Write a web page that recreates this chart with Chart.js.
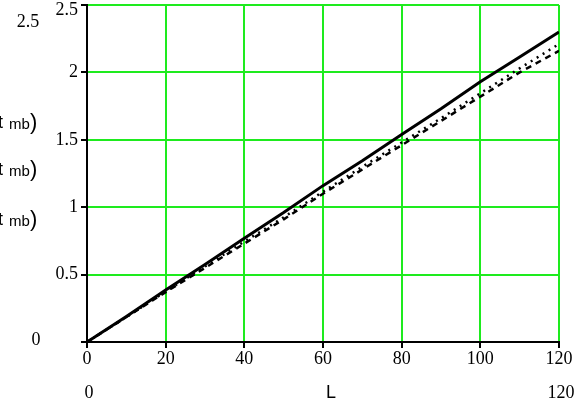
<!DOCTYPE html>
<html lang="en">
<head>
    <meta charset="UTF-8">
    <title>t mb vs L</title>
    <script src="https://cdn.jsdelivr.net/npm/chart.js@4.4.0/dist/chart.umd.min.js"></script>
    <style>
        body {margin: 0; background: #fff;}
        #wrap {width: 579px; height: 398px;}
    </style>
</head>
<body>
    <div id="wrap">
        <canvas id="chart" width="579" height="398"></canvas>
    </div>
    <script>
        // values, L from 0 to 120
        const L = [0, 10, 20, 30, 40, 50, 60, 70, 80, 90, 100, 110, 120];
        const solid = [0, 0.19, 0.385, 0.575, 0.77, 0.96, 1.16, 1.345, 1.54, 1.73, 1.93, 2.115, 2.30];
        const dashed = [0, 0.185, 0.37, 0.55, 0.73, 0.91, 1.10, 1.28, 1.46, 1.64, 1.82, 2.0, 2.16];
        const dotted = [0, 0.185, 0.375, 0.56, 0.745, 0.925, 1.115, 1.30, 1.48, 1.66, 1.845, 2.03, 2.21];
        const xTicks = [0, 20, 40, 60, 80, 100, 120];
        const yTicks = [0, 0.5, 1, 1.5, 2, 2.5];

        const green = 'rgb(30,235,30)';
        const serif = '"Liberation Serif", "Times New Roman", serif';
        const sans = '"Liberation Sans", Arial, sans-serif';

        const pts = (ys) => L.map((x, i) => ({x: x, y: ys[i]}));

        // the mathcad-style labels round the plot
        const sideLabels = {
            id: 'sideLabels',
            afterDraw(chart) {
                const ctx = chart.ctx;
                ctx.save();
                ctx.fillStyle = '#000';
                ctx.textBaseline = 'alphabetic';
                ctx.font = '18px ' + serif;
                // top tick label sits a bit lower than its grid line, like the original
                ctx.textAlign = 'right';
                ctx.fillText('2.5', 78, 15);
                ctx.textAlign = 'center';
                ctx.fillText('2.5', 28, 27);
                ctx.fillText('0', 36, 345);
                ctx.fillText('0', 89, 398);
                ctx.fillText('120', 561, 398);
                ctx.font = '18px ' + sans;
                ctx.fillText('L', 331, 398);
                ctx.textAlign = 'left';
                [128, 175, 225].forEach(b => {
                    ctx.font = '18px ' + sans;
                    ctx.fillText('t', -2, b);
                    ctx.font = '15px ' + sans;
                    ctx.fillText('mb', 9, b + 1);
                    ctx.font = '22px ' + sans;
                    ctx.fillText(')', 30, b + 1);
                });
                ctx.restore();
            }
        };

        new Chart(document.getElementById('chart'), {
            type: 'line',
            data: {
                datasets: [
                    {data: pts(solid), borderColor: '#000', borderWidth: 3, pointRadius: 0, tension: 0},
                    {data: pts(dashed), borderColor: '#000', borderWidth: 2.5, borderDash: [6, 5], pointRadius: 0, tension: 0},
                    {data: pts(dotted), borderColor: '#000', borderWidth: 2.5, borderDash: [2, 5], pointRadius: 0, tension: 0}
                ]
            },
            options: {
                responsive: false,
                animation: false,
                layout: {padding: {top: 5, right: 20, left: 0, bottom: 0}},
                plugins: {legend: {display: false}, tooltip: {enabled: false}},
                scales: {
                    x: {
                        type: 'linear',
                        min: 0, max: 120,
                        afterBuildTicks: s => { s.ticks = xTicks.map(v => ({value: v})); },
                        afterFit: s => { s.height = 56; s.paddingLeft = 0; s.paddingRight = 0; },
                        ticks: {color: '#000', font: {family: serif, size: 18}, padding: 0, maxRotation: 0},
                        grid: {color: green, lineWidth: 2, tickColor: '#000', tickLength: 6},
                        border: {color: '#000', width: 2}
                    },
                    y: {
                        min: 0, max: 2.5,
                        afterBuildTicks: s => { s.ticks = yTicks.map(v => ({value: v})); },
                        afterFit: s => { s.width = 87; s.paddingTop = 0; s.paddingBottom = 0; },
                        ticks: {
                            color: '#000', font: {family: serif, size: 18}, padding: 3,
                            callback: v => (v === 0 || v === 2.5) ? '' : String(v)
                        },
                        grid: {color: green, lineWidth: 2, tickColor: '#000', tickLength: 6},
                        border: {color: '#000', width: 2}
                    }
                }
            },
            plugins: [sideLabels]
        });
    </script>
</body>
</html>
